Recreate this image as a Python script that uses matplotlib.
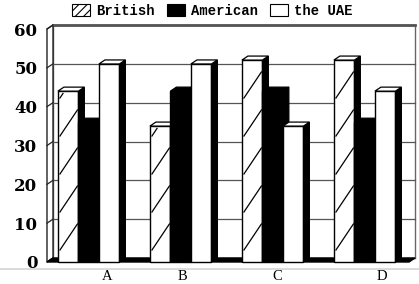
import matplotlib
matplotlib.use("Agg")
import matplotlib.pyplot as plt
from matplotlib.patches import Polygon, Rectangle, Patch
from matplotlib.lines import Line2D

# ---------------- data ----------------
categories = ["A", "B", "C", "D"]
series_names = ["British", "American", "the UAE"]
british = [44, 35, 52, 52]
american = [36, 44, 44, 36]
uae = [51, 51, 35, 44]
y_ticks = [0, 10, 20, 30, 40, 50, 60]
label_shift = [0.2, 0.025, 0.05, 0.19]   # placement tweak for category labels

# ---------------- layout ----------------
W, H, DPI = 419, 284, 100
fig = plt.figure(figsize=(W / DPI, H / DPI), dpi=DPI)
fig.patch.set_facecolor("white")

# faint page line under the chart (drawn beneath everything)
fig.add_artist(Line2D([0, 1], [1 - 268.5 / H, 1 - 268.5 / H], transform=fig.transFigure,
                      color="#d4d4d4", lw=1.2, zorder=-5))

left_px, right_px, bottom_px, top_px = 47, 409, 262, 29
ax = fig.add_axes([left_px / W, 1 - bottom_px / H,
                   (right_px - left_px) / W, (bottom_px - top_px) / H])
xlim = (-0.453, 3.482)
ylim = (0, 60)
ax.set_xlim(*xlim)
ax.set_ylim(*ylim)
for s in ax.spines.values():
    s.set_visible(False)
ax.patch.set_alpha(0)

px_x = (xlim[1] - xlim[0]) / (right_px - left_px)
px_y = (ylim[1] - ylim[0]) / (bottom_px - top_px)
ddx, ddy = 6 * px_x, 4 * px_y   # 3-D depth offset

x0, x1 = xlim
z = 1
# back wall
ax.add_patch(Polygon([(x0 + ddx, ddy), (x1 + ddx, ddy), (x1 + ddx, 60 + ddy), (x0 + ddx, 60 + ddy)],
                     closed=True, facecolor="white", edgecolor="#666666", lw=1.0,
                     clip_on=False, zorder=z))
ax.add_line(Line2D([x0 + ddx, x1 + ddx], [60 + ddy, 60 + ddy], color="#555555", lw=2.0,
                   clip_on=False, zorder=z + 1))
# left wall
ax.add_patch(Polygon([(x0, 0), (x0, 60), (x0 + ddx, 60 + ddy), (x0 + ddx, ddy)], closed=True,
                     facecolor="white", edgecolor="#222222", lw=1.0, clip_on=False, zorder=z + 1))
# gridlines on back wall and on the left wall
for t in y_ticks:
    ax.add_line(Line2D([x0 + ddx, x1 + ddx], [t + ddy, t + ddy], color="#555555", lw=0.9,
                       clip_on=False, zorder=z + 1))
    ax.add_line(Line2D([x0, x0 + ddx], [t, t + ddy], color="#222222", lw=0.9,
                       clip_on=False, zorder=z + 2))
# floor
ax.add_patch(Polygon([(x0, 0), (x1, 0), (x1 + ddx, ddy), (x0 + ddx, ddy)], closed=True,
                     facecolor="black", edgecolor="black", lw=1.0, clip_on=False, zorder=z + 3))

# ---------------- bars ----------------
w = 0.223
values = [british, american, uae]
fronts = ["white", "black", "white"]
tops = ["white", "black", "white"]
zz = 10
rise = 26 * px_y
step = 38 * px_y
for i in range(len(categories)):
    for j, vals in enumerate(values):
        h = vals[i]
        xl = i - 1.5 * w + j * w
        ax.add_patch(Rectangle((xl, 0), w, h, facecolor=fronts[j], edgecolor="black", lw=1.0,
                               clip_on=False, zorder=zz))
        zz += 1
        if j == 0:
            # sparse diagonal hatch segments, clipped by hand to the front face
            xa, xb = xl + 0.1 * w, xl + 0.95 * w
            b = -rise
            while b < h:
                ya, yb = b, b + rise
                ta = max(0.0, (0 - ya) / (yb - ya))
                tb = min(1.0, (h - 0.6 - ya) / (yb - ya))
                if tb > ta:
                    ax.add_line(Line2D([xa + ta * (xb - xa), xa + tb * (xb - xa)],
                                       [ya + ta * (yb - ya), ya + tb * (yb - ya)],
                                       color="black", lw=0.9, clip_on=False, zorder=zz))
                b += step
            zz += 1
        ax.add_patch(Polygon([(xl + w, 0), (xl + w, h), (xl + w + ddx, h + ddy), (xl + w + ddx, ddy)],
                             closed=True, facecolor="black", edgecolor="black", lw=0.8,
                             clip_on=False, zorder=zz))
        zz += 1
        ax.add_patch(Polygon([(xl, h), (xl + w, h), (xl + w + ddx, h + ddy), (xl + ddx, h + ddy)],
                             closed=True, facecolor=tops[j], edgecolor="black", lw=0.9,
                             clip_on=False, zorder=zz))
        zz += 1

# ---------------- ticks ----------------
ax.set_yticks(y_ticks)
ax.set_yticklabels([str(t) for t in y_ticks], fontfamily="DejaVu Serif", fontweight="bold",
                   fontsize=12)
ax.tick_params(axis="y", length=0, pad=7)
ax.set_xticks([i + s for i, s in enumerate(label_shift)])
ax.set_xticklabels(categories, fontfamily="Liberation Serif", fontsize=10.5)
ax.tick_params(axis="x", length=0, pad=5.5)

# ---------------- legend ----------------
plt.rcParams["hatch.linewidth"] = 0.8
handles = [
    Patch(facecolor="white", edgecolor="black", hatch="////", lw=0.8),
    Patch(facecolor="black", edgecolor="black", lw=0.8),
    Patch(facecolor="white", edgecolor="black", lw=0.8),
]
fig.legend(handles, series_names, loc="center", bbox_to_anchor=(0.507, 0.963), ncol=3,
           frameon=False, prop={"family": "Liberation Mono", "weight": "bold", "size": 10},
           handlelength=1.3, handleheight=0.95, handletextpad=0.4, columnspacing=0.9,
           borderaxespad=0, borderpad=0)

fig.savefig("out.png", dpi=DPI)
